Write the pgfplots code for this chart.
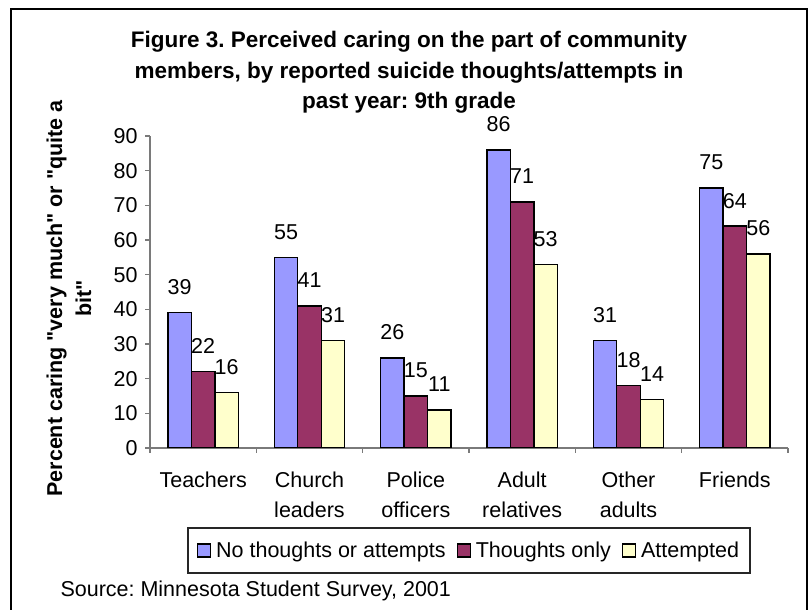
\documentclass[border=0pt]{standalone}
\usepackage{fontspec}
\setmainfont{Liberation Sans}[Ligatures=TeXOff]
\usepackage{pgfplots}
\pgfplotsset{compat=1.18}

\definecolor{noThought}{HTML}{9999FF}
\definecolor{thoughtOnly}{HTML}{993366}
\definecolor{attempted}{HTML}{FFFFCC}
\definecolor{axisgray}{HTML}{7A7A7A}

\newcommand\chartfont{\fontsize{21.5bp}{30bp}\selectfont}
\newcommand\titlefont{\bfseries\fontsize{22.5bp}{30bp}\selectfont}

\pgfplotsset{
  swatch legend/.style={
    legend image code/.code={
      \draw[##1, draw=black, line width=1.2bp] (0bp,-6.5bp) rectangle (13bp,6.5bp);
    }
  }
}

\begin{document}
\frenchspacing
\begin{tikzpicture}[x=1bp,y=1bp]
\useasboundingbox (0,0) rectangle (810,610);

% outer chart frame (open at the bottom edge of the page)
\draw[line width=1.5bp] (11,-10) -- (11,601) -- (807,601) -- (807,-10);

% chart title
\node[font=\titlefont, anchor=base] at (409,562) {Figure 3. Perceived caring on the part of community};
\node[font=\titlefont, anchor=base] at (409,531.5) {members, by reported suicide thoughts/attempts in};
\node[font=\titlefont, anchor=base] at (409,501) {past year: 9th grade};

% y axis title, two rotated lines
\node[rotate=90, anchor=base, font=\bfseries\chartfont] at (62,311.5) {Percent caring "very much" or "quite a};
\node[rotate=90, anchor=base, font=\bfseries\chartfont] at (91,311.5) {bit"};

% source line
\node[anchor=base west, font=\chartfont] at (57,13) {Source: Minnesota Student Survey, 2001};

\begin{axis}[
  at={(150bp,162bp)}, anchor=south west,
  scale only axis, width=638bp, height=312bp,
  ybar=0pt, bar width=23.5bp,
  xmin=0.5, xmax=6.5, ymin=0, ymax=90,
  ytick={0,10,...,90},
  xtick={1,...,6},
  xticklabels={Teachers,{Church\\leaders},{Police\\officers},{Adult\\relatives},{Other\\adults},Friends},
  minor xtick={0.5,1.5,...,6.5},
  axis lines=left,
  axis line style={-, draw=axisgray, line width=1.2bp},
  tick align=outside,
  major tick length=5bp, minor tick length=5bp,
  tick style={draw=axisgray, line width=1.2bp},
  every major x tick/.append style={draw=none},
  /pgf/number format/assume math mode=true,
  tick label style={font=\chartfont},
  xticklabel style={align=center, yshift=-15bp},
  yticklabel style={xshift=-4bp},
  nodes near coords,
  nodes near coords style={font=\chartfont, anchor=base, yshift=18bp},
  legend style={at={(0.5,-0.3285)}, anchor=center, draw=black!85, line width=1.1bp,
    font=\chartfont, legend columns=3,
    /tikz/every odd column/.append style={column sep=3bp},
    /tikz/every even column/.append style={column sep=9bp},
    inner xsep=9bp, inner ysep=12bp},
  legend cell align=left,
]
\addplot[fill=noThought, draw=black, line width=1.3bp, swatch legend]
  coordinates {(1,39) (2,55) (3,26) (4,86) (5,31) (6,75)};
\addplot[fill=thoughtOnly, draw=black, line width=1.3bp, swatch legend]
  coordinates {(1,22) (2,41) (3,15) (4,71) (5,18) (6,64)};
\addplot[fill=attempted, draw=black, line width=1.3bp, swatch legend]
  coordinates {(1,16) (2,31) (3,11) (4,53) (5,14) (6,56)};
\legend{No thoughts or attempts, Thoughts only, Attempted}
\end{axis}
\end{tikzpicture}
\end{document}
